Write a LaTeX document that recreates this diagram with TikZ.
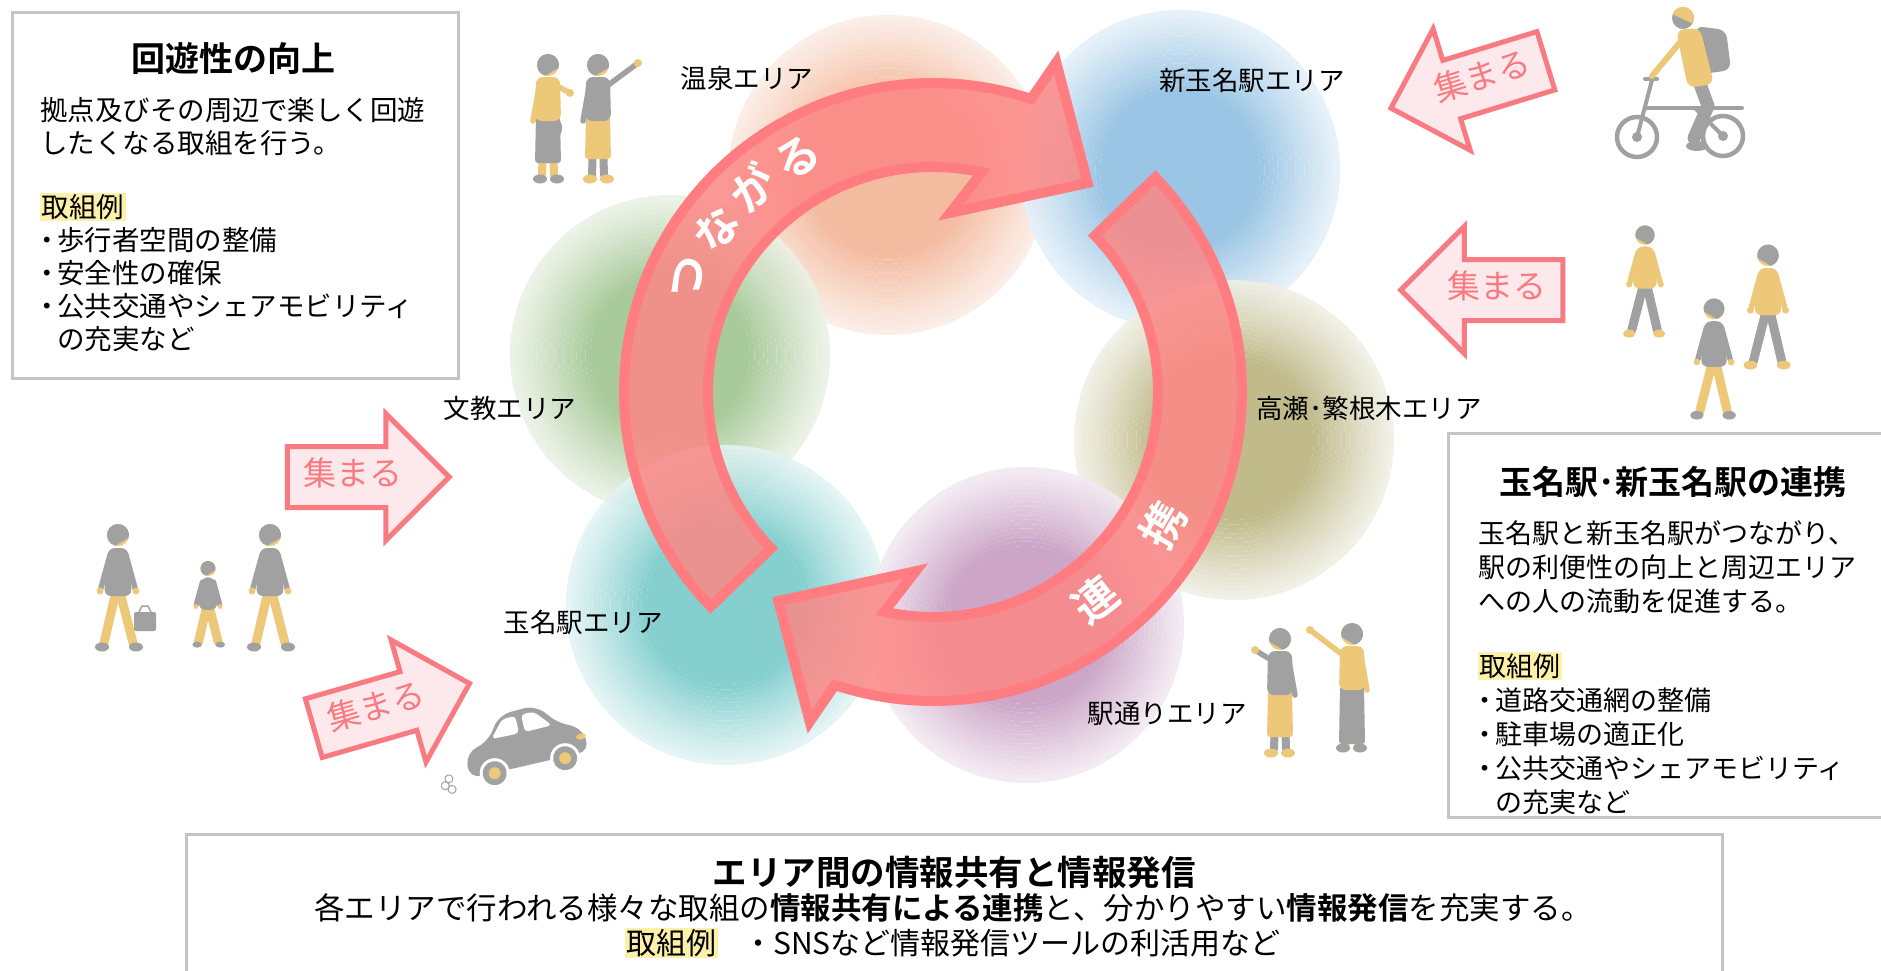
\documentclass[tikz,border=0pt]{standalone}
\usepackage{fontspec}
\setmainfont{Noto Sans CJK JP}[BoldFont={Noto Sans CJK JP Bold}]
\usetikzlibrary{shapes.arrows}

\newcommand\setfs[2]{\fontsize{#1}{#2}\selectfont}
\newcommand\itemdot{\makebox[17pt][l]{\hspace{-7pt}・}}
\newcommand\hl[1]{{\setlength{\fboxsep}{1.5pt}\colorbox{hlyellow}{#1}}}

\definecolor{boxline}{HTML}{C4C4C4}
\definecolor{hlyellow}{HTML}{FDF0A8}
\definecolor{ringfill}{HTML}{FC8785}
\definecolor{ringline}{HTML}{FF7D80}
\definecolor{gatherline}{HTML}{F77B80}
\definecolor{gatherfill}{HTML}{FDE9EC}
\definecolor{figgray}{HTML}{A0A1A0}
\definecolor{figyellow}{HTML}{ECC878}
% area colours (centre / rim)
\definecolor{onsenin}{HTML}{F2B496}   \definecolor{onsenout}{HTML}{FBEDE6}
\definecolor{shinin}{HTML}{90BFE2}    \definecolor{shinout}{HTML}{E6F1F9}
\definecolor{takasein}{HTML}{BAB47F}  \definecolor{takaseout}{HTML}{F1F0E6}
\definecolor{dorin}{HTML}{C69BC1}     \definecolor{dorout}{HTML}{F3EAF2}
\definecolor{ekiin}{HTML}{78CACA}     \definecolor{ekiout}{HTML}{E4F4F4}
\definecolor{bunin}{HTML}{A0C590}     \definecolor{bunout}{HTML}{ECF2E7}

\tikzset{
  panel/.style      = {draw=boxline, line width=3pt, fill=white},
  paneltitle/.style = {font=\setfs{34}{40}\bfseries, inner sep=0pt},
  paneltext/.style  = {font=\setfs{27.5}{33}, align=left, inner sep=0pt, anchor=north west},
  arealabel/.style  = {font=\setfs{26.5}{30}, inner sep=0pt},
  gather/.style     = {single arrow, draw=gatherline, fill=gatherfill, line width=5pt,
                       text=gatherline, font=\setfs{33}{36},
                       single arrow head extend=33pt, minimum height=162pt,
                       text height=22pt, text depth=6pt, inner ysep=14pt, inner xsep=4pt},
  ringarrow/.style  = {fill=ringfill, fill opacity=0.85, draw=ringline, draw opacity=1,
                       line width=10pt, line join=miter},
  ringtext/.style   = {text=white, font=\setfs{44}{48}\bfseries, inner sep=0pt},
  % soft disc: centre colour, rim colour, radius (drawn as rings)
  pics/area/.style n args = {3}{code={
    \foreach \k in {0,...,17} {
      \pgfmathsetmacro\ro{#3*(1-0.5*\k/18)}
      \pgfmathsetmacro\ri{#3*(1-0.5*(\k+1)/18)}
      \pgfmathsetmacro\pct{100*((\k+0.5)/18)^1.1}
      \fill[#1!\pct!#2, fill opacity=0.9, even odd rule] (0,0) circle (\ro) circle (\ri);
    }
    \fill[#1, fill opacity=0.9] (0,0) circle (#3*0.5);
  }},
  pics/halfring/.style = {code={
    \draw[ringarrow] (224:309) arc[start angle=224, end angle=71.5, radius=309]
      -- (69.5:352) -- (53.5:260) -- (84.5:180) -- (77.5:225)
      arc[start angle=77.5, end angle=224, radius=225] -- cycle;
  }},
  % walking person, feet on the origin, facing right
  pics/walker/.style 2 args = {code={
    \draw[#2, line width=9pt, line cap=round] (-3,56) -- (-14,9);
    \draw[#2, line width=9pt, line cap=round] (3,56) -- (15,9);
    \fill[#1] (-16,5) ellipse [x radius=7, y radius=4.5];
    \fill[#1] (18,5) ellipse [x radius=7, y radius=4.5];
    \draw[#1, line width=5.5pt, line cap=round] (-8,97) -- (-17,64);
    \draw[#1, line width=5.5pt, line cap=round] (8,97) -- (17,64);
    \fill[figyellow] (-18,61) circle (3.5);
    \fill[figyellow] (18,61) circle (3.5);
    \fill[#1, rounded corners=7pt] (-10,104) -- (10,104) -- (14,56) -- (-14,56) -- cycle;
    \fill[figyellow] (0,117) circle (11);
    \fill[figgray] (0,117) +(-15:11) arc[start angle=-15, end angle=255, radius=11] -- cycle;
  }},
  % standing person with one raised arm: top, lower garment, hem height, hand
  pics/stander/.style n args = {4}{code={
    \draw[#1, line width=8pt, line cap=round] (-5,40) -- (-6,8);
    \draw[#1, line width=8pt, line cap=round] (5,40) -- (6,8);
    \fill[#2] (-8,4) ellipse [x radius=7, y radius=4.5];
    \fill[#2] (9,4) ellipse [x radius=7, y radius=4.5];
    \fill[#2, rounded corners=3pt] (-12,66) -- (12,66) -- (13,#3) -- (-13,#3) -- cycle;
    \draw[#1, line width=5.5pt, line cap=round] (-9,96) -- (-15,62);
    \draw[#1, line width=5.5pt, line cap=round] (9,97) -- (#4);
    \fill[figyellow] (#4) circle (4);
    \fill[#1, rounded corners=7pt] (-12,106) -- (12,106) -- (13,62) -- (-13,62) -- cycle;
    \fill[figyellow] (0,118) circle (11);
    \fill[figgray] (0,118) +(-15:11) arc[start angle=-15, end angle=255, radius=11] -- cycle;
  }}
}

\begin{document}
\begin{tikzpicture}[x=1pt, y=1pt]
\useasboundingbox (0,0) rectangle (1881,-970);

% the six areas
\pic at (888,-175)  {area={onsenin}{onsenout}{160}};
\pic at (1180,-170) {area={shinin}{shinout}{160}};
\pic at (670,-355)  {area={bunin}{bunout}{160}};
\pic at (1234,-440) {area={takasein}{takaseout}{160}};
\pic at (726,-605)  {area={ekiin}{ekiout}{160}};
\pic at (1026,-625) {area={dorin}{dorout}{158}};

\node[arealabel] (onsen)  at (747,-78)   {温泉エリア};
\node[arealabel] (shin)   at (1252,-80)  {新玉名駅エリア};
\node[arealabel] (bunkyo) at (510,-408)  {文教エリア};
\node[arealabel] (takase) at (1369,-408) {高瀬･繁根木エリア};
\node[arealabel] (eki)    at (583,-622)  {玉名駅エリア};
\node[arealabel] (dori)   at (1167,-714) {駅通りエリア};

% the ring of two arrows
\coordinate (ring) at (933,-392);
\pic at (ring) {halfring};
\pic[rotate=180] at (ring) {halfring};

\begin{scope}[shift={(ring)}]
  \node[ringtext, rotate=65]  (tsu) at (155:270)   {つ};
  \node[ringtext, rotate=53]  (na)  at (143:271)   {な};
  \node[ringtext, rotate=41.5](ga)  at (131.5:273) {が};
  \node[ringtext, rotate=30]  (ru)  at (120:271)   {る};
  \node[ringtext, rotate=38]  (ren) at (-52:264)   {連};
  \node[ringtext, rotate=60]  (kei) at (-30:266)   {携};
\end{scope}

% arrows gathering people
\node[gather]                                     (inleft)   at (353,-477)  {集まる};
\node[gather, rotate=16]                          (inlow)    at (377,-710)  {集まる};
\node[gather, shape border rotate=180, rotate=17] (inright)  at (1483,-80)  {集まる};
\node[gather, shape border rotate=180]            (inright2) at (1497,-290) {集まる};

% panel: circulation
\draw[panel] (12,-12) rectangle (458,-378);
\node[paneltitle] (kaiyuTitle) at (233,-58) {回遊性の向上};
\node[paneltext] (kaiyuText) at (40,-97) {%
  拠点及びその周辺で楽しく回遊\\
  したくなる取組を行う。\\[31pt]
  \hl{取組例}\\
  \itemdot 歩行者空間の整備\\
  \itemdot 安全性の確保\\
  \itemdot 公共交通やシェアモビリティ\\
  \hspace*{17pt}の充実など};

% panel: station link
\draw[panel] (1448,-433) rectangle (1884,-817);
\node[paneltitle, font=\setfs{33}{38}\bfseries] (renkeiTitle) at (1673,-482) {玉名駅･新玉名駅の連携};
\node[paneltext, font=\setfs{27}{34}] (renkeiText) at (1478,-520) {%
  玉名駅と新玉名駅がつながり、\\
  駅の利便性の向上と周辺エリア\\
  への人の流動を促進する。\\[31pt]
  \hl{取組例}\\
  \itemdot 道路交通網の整備\\
  \itemdot 駐車場の適正化\\
  \itemdot 公共交通やシェアモビリティ\\
  \hspace*{17pt}の充実など};

% panel: information
\draw[panel] (186,-834) rectangle (1722,-975);
\node[paneltitle, font=\setfs{34.5}{40}\bfseries] (infoTitle) at (954,-872) {エリア間の情報共有と情報発信};
\node[inner sep=0pt, font=\setfs{30.5}{36}] (infoText) at (953,-908)
  {各エリアで行われる様々な取組の\textbf{情報共有による連携}と、分かりやすい\textbf{情報発信}を充実する。};
\node[inner sep=0pt, font=\setfs{30}{36}] (infoEx) at (953,-943)
  {\hl{取組例}\hspace{25pt}・SNSなど情報発信ツールの利活用など};

% people, top left
\pic at (548,-183) {stander={figyellow}{figgray}{20}{22,90}};
\fill[figgray] (558,-128) ellipse [x radius=4, y radius=8];
\pic at (598,-183) {stander={figgray}{figyellow}{24}{40,120}};

% people, bottom left
\pic at (118,-652) {walker={figgray}{figyellow}};
\fill[figgray, rounded corners=2pt] (134,-612) rectangle (156,-631);
\draw[figgray, line width=1.5pt] (139,-612) -- (142,-606) -- (148,-606) -- (151,-612);
\pic[scale=0.68] at (208,-648) {walker={figgray}{figyellow}};
\pic at (270,-652) {walker={figgray}{figyellow}};

% car
\begin{scope}[shift={(527,-752)}, rotate=12]
  \fill[figgray, rounded corners=12pt] (-62,-14) -- (-60,12) -- (-36,18) -- (-20,42)
    -- (18,44) -- (38,20) -- (58,14) -- (62,-12) -- cycle;
  \fill[white, rounded corners=4pt] (-32,20) -- (-18,37) -- (-4,38) -- (-4,20) -- cycle;
  \fill[white, rounded corners=4pt] (2,20) -- (2,38) -- (15,38) -- (30,21) -- cycle;
  \foreach \wx in {-36,36} {
    \fill[white] (\wx,-14) circle (15);
    \fill[figgray] (\wx,-14) circle (12);
    \fill[figyellow] (\wx,-14) circle (6);
  }
  \fill[figyellow] (56,4) ellipse [x radius=5, y radius=3];
  \draw[figgray, line width=1pt] (-82,-10) circle (4) (-87,-16) circle (4) (-81,-21) circle (4);
\end{scope}

% cyclist
\draw[figgray, line width=4.5pt] (1637,-137) circle (20);
\draw[figgray, line width=4.5pt] (1723,-136) circle (20);
\fill[figgray] (1637,-137) circle (5);
\fill[figgray] (1723,-136) circle (5);
\draw[figgray, line width=4pt, line cap=round] (1637,-137) -- (1652,-80);
\draw[figgray, line width=4pt, line cap=round] (1646,-108) -- (1742,-108);
\draw[figgray, line width=4pt, line cap=round] (1695,-108) -- (1723,-136);
\draw[figgray, line width=4pt, line cap=round] (1645,-79) -- (1657,-79);
\fill[figgray, rounded corners=8pt] (1695,-26) -- (1726,-30) -- (1731,-70) -- (1703,-74) -- cycle;
\draw[figgray, line width=13pt, line cap=round, line join=round] (1700,-84) -- (1708,-106) -- (1694,-138);
\fill[figgray] (1697,-146) ellipse [x radius=11, y radius=5];
\fill[figyellow, rounded corners=8pt] (1676,-30) -- (1700,-28) -- (1714,-84) -- (1688,-88) -- cycle;
\draw[figyellow, line width=6pt, line cap=round] (1682,-40) -- (1652,-76);
\fill[figgray] (1683,-18) circle (11);
\fill[figyellow] (1683,-18) +(-30:11) arc[start angle=-30, end angle=160, radius=11] -- cycle;

% people, right
\pic[xscale=-0.88, yscale=0.88] at (1645,-338) {walker={figyellow}{figgray}};
\pic[xscale=-0.95, yscale=0.95] at (1714,-420) {walker={figgray}{figyellow}};
\pic[xscale=-0.98, yscale=0.98] at (1768,-370) {walker={figyellow}{figgray}};

% people, bottom right
\pic[xscale=-1] at (1280,-757) {stander={figgray}{figyellow}{20}{25,107}};
\pic[xscale=-1] at (1352,-752) {stander={figyellow}{figgray}{8}{42,122}};

\end{tikzpicture}
\end{document}
